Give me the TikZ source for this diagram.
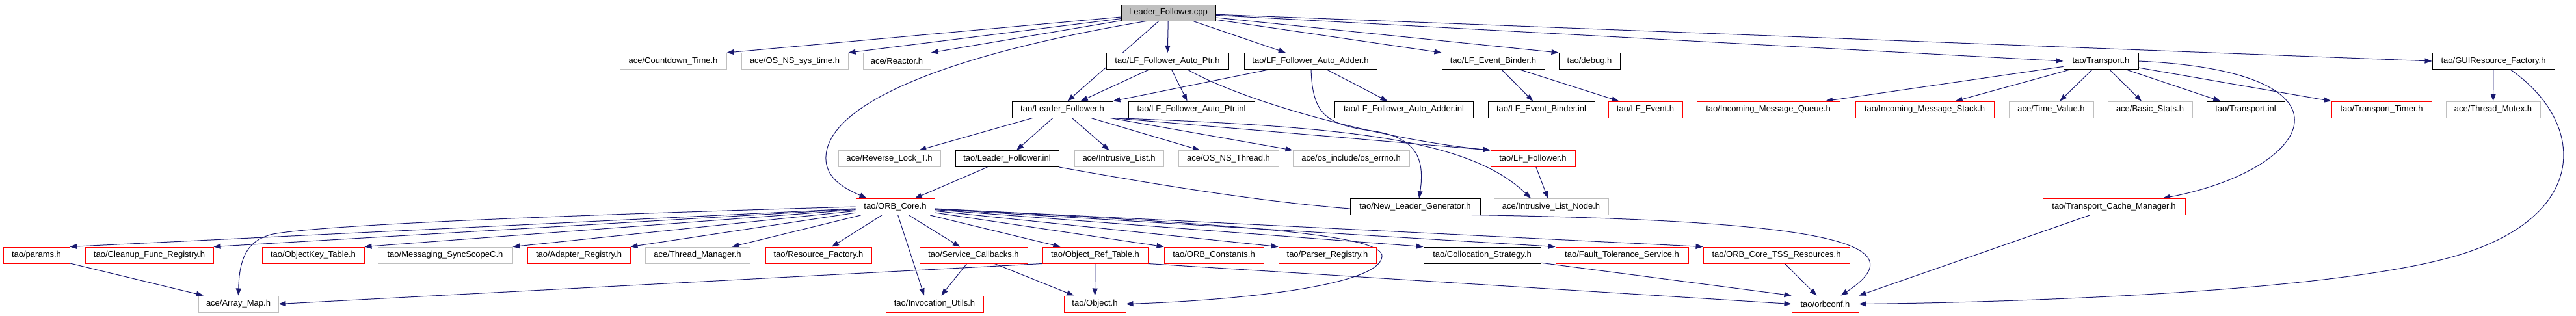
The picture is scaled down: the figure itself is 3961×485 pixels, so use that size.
\documentclass[tikz,border=0pt]{standalone}
\usepackage{fontspec}
\setmainfont{Liberation Sans}
\usepackage{xcolor}
\usepackage{tikz}
\usetikzlibrary{arrows, arrows.meta, backgrounds}

\definecolor{edgeblue}{HTML}{191970}
\definecolor{boxgray}{HTML}{BFBFBF}

\begin{document}
\begin{tikzpicture}[x=1pt,y=-1pt,
  file/.style={draw, line width=1pt, fill=white, minimum height=25pt, inner sep=0pt, font=\fontsize{13}{15}\selectfont},
  bfile/.style={file, draw=black},
  gfile/.style={file, draw=boxgray},
  rfile/.style={file, draw=red},
  rootfile/.style={file, draw=black, fill=boxgray},
  arr/.style={draw=edgeblue, line width=1pt, -{Triangle[length=11pt,width=8pt]}}]
\useasboundingbox (0,0) rectangle (3961,485);

%top
\node[rootfile, minimum width=145pt] (cpp) at (1796.5,19.5) {Leader\_Follower.cpp};

%row 2
\node[gfile, minimum width=164pt] (countdown) at (1035,94) {ace/Countdown\_Time.h};
\node[gfile, minimum width=164pt] (ossystime) at (1222,94) {ace/OS\_NS\_sys\_time.h};
\node[gfile, minimum width=104pt] (reactor) at (1379,94) {ace/Reactor.h};
\node[bfile, minimum width=188pt] (autoptr) at (1795,94) {tao/LF\_Follower\_Auto\_Ptr.h};
\node[bfile, minimum width=204pt] (autoadder) at (2015,94) {tao/LF\_Follower\_Auto\_Adder.h};
\node[bfile, minimum width=158pt] (evbinder) at (2296,94) {tao/LF\_Event\_Binder.h};
\node[bfile, minimum width=94pt] (debug) at (2444,94) {tao/debug.h};
\node[bfile, minimum width=115pt] (transport) at (3230.5,94) {tao/Transport.h};
\node[bfile, minimum width=188pt] (guires) at (3834,94) {tao/GUIResource\_Factory.h};

%row 3
\node[bfile, minimum width=155pt] (lfh) at (1633.5,168.5) {tao/Leader\_Follower.h};
\node[bfile, minimum width=194pt] (autoptrinl) at (1832,168.5) {tao/LF\_Follower\_Auto\_Ptr.inl};
\node[bfile, minimum width=213pt] (autoadderinl) at (2158.5,168.5) {tao/LF\_Follower\_Auto\_Adder.inl};
\node[bfile, minimum width=164pt] (evbinderinl) at (2370,168.5) {tao/LF\_Event\_Binder.inl};
\node[rfile, minimum width=114pt] (lfevent) at (2530,168.5) {tao/LF\_Event.h};
\node[rfile, minimum width=220pt] (msgqueue) at (2719,168.5) {tao/Incoming\_Message\_Queue.h};
\node[rfile, minimum width=213pt] (msgstack) at (2959.5,168.5) {tao/Incoming\_Message\_Stack.h};
\node[gfile, minimum width=130pt] (timevalue) at (3154,168.5) {ace/Time\_Value.h};
\node[gfile, minimum width=130pt] (basicstats) at (3306,168.5) {ace/Basic\_Stats.h};
\node[bfile, minimum width=120pt] (transportinl) at (3453,168.5) {tao/Transport.inl};
\node[rfile, minimum width=154pt] (transtimer) at (3662,168.5) {tao/Transport\_Timer.h};
\node[gfile, minimum width=145pt] (threadmutex) at (3833.5,168.5) {ace/Thread\_Mutex.h};

%row 4
\node[gfile, minimum width=157pt] (reverselock) at (1367.5,244) {ace/Reverse\_Lock\_T.h};
\node[bfile, minimum width=159pt] (lfinl) at (1548.5,244) {tao/Leader\_Follower.inl};
\node[gfile, minimum width=137pt] (intrlist) at (1720.5,244) {ace/Intrusive\_List.h};
\node[gfile, minimum width=154pt] (osthread) at (1889,244) {ace/OS\_NS\_Thread.h};
\node[gfile, minimum width=179pt] (errno) at (2077.5,244) {ace/os\_include/os\_errno.h};
\node[rfile, minimum width=130pt] (lffollower) at (2357,244) {tao/LF\_Follower.h};

%row 5
\node[rfile, minimum width=121pt] (orbcore) at (1376.5,318) {tao/ORB\_Core.h};
\node[bfile, minimum width=200pt] (newleader) at (2176,318) {tao/New\_Leader\_Generator.h};
\node[gfile, minimum width=176pt] (listnode) at (2385,318) {ace/Intrusive\_List\_Node.h};
\node[rfile, minimum width=219pt] (cachemgr) at (3250.5,318) {tao/Transport\_Cache\_Manager.h};

%row 6
\node[rfile, minimum width=102pt] (params) at (56,392.5) {tao/params.h};
\node[rfile, minimum width=197pt] (cleanup) at (229.5,392.5) {tao/Cleanup\_Func\_Registry.h};
\node[rfile, minimum width=157pt] (objkey) at (481.5,392.5) {tao/ObjectKey\_Table.h};
\node[gfile, minimum width=207pt] (syncscope) at (684.5,392.5) {tao/Messaging\_SyncScopeC.h};
\node[rfile, minimum width=158pt] (adapter) at (890,392.5) {tao/Adapter\_Registry.h};
\node[gfile, minimum width=161pt] (threadmgr) at (1072.5,392.5) {ace/Thread\_Manager.h};
\node[rfile, minimum width=163pt] (resfactory) at (1258.5,392.5) {tao/Resource\_Factory.h};
\node[rfile, minimum width=166pt] (servcb) at (1497,392.5) {tao/Service\_Callbacks.h};
\node[rfile, minimum width=162pt] (objreftable) at (1684,392.5) {tao/Object\_Ref\_Table.h};
\node[rfile, minimum width=153pt] (orbconst) at (1866.5,392.5) {tao/ORB\_Constants.h};
\node[rfile, minimum width=150pt] (parser) at (2041,392.5) {tao/Parser\_Registry.h};
\node[bfile, minimum width=180pt] (colloc) at (2279,392.5) {tao/Collocation\_Strategy.h};
\node[rfile, minimum width=204pt] (faulttol) at (2494,392.5) {tao/Fault\_Tolerance\_Service.h};
\node[rfile, minimum width=225pt] (tssres) at (2731.5,392.5) {tao/ORB\_Core\_TSS\_Resources.h};

%row 7
\node[gfile, minimum width=123pt] (arraymap) at (366.5,467.5) {ace/Array\_Map.h};
\node[rfile, minimum width=150pt] (invutils) at (1437,467.5) {tao/Invocation\_Utils.h};
\node[rfile, minimum width=95pt] (object) at (1683.5,467.5) {tao/Object.h};
\node[rfile, minimum width=103pt] (orbconf) at (2806.5,467.5) {tao/orbconf.h};

\begin{scope}[on background layer]
%from Leader_Follower.cpp
\draw[arr] (cpp) -- (countdown.north east);
\draw[arr] (cpp) -- (ossystime.north east);
\draw[arr] (cpp) -- (reactor.north east);
\draw[arr] ([xshift=-34pt]cpp.south) .. controls (1450,85) and (1275,160) .. (1270,240) .. controls (1268,275) and (1300,290) .. ([xshift=-44pt]orbcore.north);
\draw[arr] (cpp) -- ([xshift=8pt]lfh.north);
\draw[arr] (cpp) -- (autoptr);
\draw[arr] (cpp) -- (autoadder);
\draw[arr] (cpp) -- (evbinder.north west);
\draw[arr] (cpp) -- (debug.north west);
\draw[arr] (cpp) -- (transport.west);
\draw[arr] (cpp) -- (guires.west);

%second row
\draw[arr] (autoptr) -- (lfh);
\draw[arr] (autoptr) -- (autoptrinl);
\draw[arr] ([xshift=31pt]autoptr.south) .. controls (1920,160) and (2130,215) .. (lffollower.north west);
\draw[arr] (autoadder) -- (lfh.north east);
\draw[arr] (autoadder) -- (autoadderinl);
\draw[arr] ([xshift=1pt]autoadder.south) .. controls (2018,170) and (2035,190) .. (2100,200) .. controls (2175,208) and (2192,240) .. ([xshift=6pt]newleader.north);
\draw[arr] (evbinder) -- (evbinderinl);
\draw[arr] (evbinder) -- (lfevent);
\draw[arr] (transport) -- ([xshift=88pt]msgqueue.north);
\draw[arr] (transport) -- (msgstack);
\draw[arr] (transport) -- (timevalue);
\draw[arr] (transport) -- (basicstats);
\draw[arr] (transport) -- (transportinl);
\draw[arr] (transport) -- (transtimer.north west);
\draw[arr] (transport.east) .. controls (3640,110) and (3560,260) .. ([xshift=75pt]cachemgr.north);
\draw[arr] (guires) -- (threadmutex);
\draw[arr] ([xshift=26pt]guires.south) .. controls (3980,190) and (3985,340) .. (3760,398) .. controls (3560,450) and (3100,465) .. (orbconf.east);

%Leader_Follower.h
\draw[arr] (lfh) -- (reverselock);
\draw[arr] (lfh) -- (lfinl);
\draw[arr] (lfh) -- (intrlist);
\draw[arr] (lfh) -- (osthread);
\draw[arr] (lfh) -- (errno.north west);
\draw[arr] (lfh.south east) -- (lffollower.north west);
\draw[arr] (lfh.south east) .. controls (2080,195) and (2260,215) .. ([xshift=-31pt]listnode.north);
\draw[arr] (lffollower) -- (listnode);

%Leader_Follower.inl
\draw[arr] (lfinl) -- (orbcore);
\draw[arr] (lfinl.south east) .. controls (1950,315) and (2100,328) .. (2290,331) .. controls (2780,340) and (2960,370) .. ([xshift=24pt]orbconf.north);

%ORB_Core.h
\draw[arr] (orbcore) -- (params.north east);
\draw[arr] (orbcore) -- (cleanup.north east);
\draw[arr] (orbcore.west) .. controls (900,330) and (500,345) .. (420,360) .. controls (385,368) and (368,390) .. (arraymap.north);
\draw[arr] (orbcore) -- (objkey.north east);
\draw[arr] (orbcore) -- (syncscope.north east);
\draw[arr] (orbcore) -- (adapter.north east);
\draw[arr] (orbcore) -- (threadmgr);
\draw[arr] (orbcore) -- (resfactory);
\draw[arr] (orbcore) -- ([xshift=-16pt]invutils.north);
\draw[arr] (orbcore) -- (servcb);
\draw[arr] (orbcore) -- (objreftable);
\draw[arr] (orbcore) -- (orbconst.north west);
\draw[arr] (orbcore) -- (parser.north west);
\draw[arr] (orbcore) -- (colloc.north west);
\draw[arr] (orbcore) -- (faulttol.north west);
\draw[arr] (orbcore) -- (tssres.north west);
\draw[arr] (orbcore) .. controls (1900,345) and (2130,360) .. (2125,395) .. controls (2120,440) and (1900,462) .. (object.east);

%lower rows
\draw[arr] (params) -- (arraymap);
\draw[arr] (servcb) -- (invutils);
\draw[arr] (servcb) -- (object);
\draw[arr] (objreftable) -- (object);
\draw[arr] (objreftable.south west) -- (arraymap.east);
\draw[arr] (objreftable.south east) -- (orbconf.west);
\draw[arr] (colloc) -- (orbconf.north west);
\draw[arr] (tssres) -- (orbconf);
\draw[arr] (cachemgr) -- (orbconf.north east);
\end{scope}

\end{tikzpicture}
\end{document}
